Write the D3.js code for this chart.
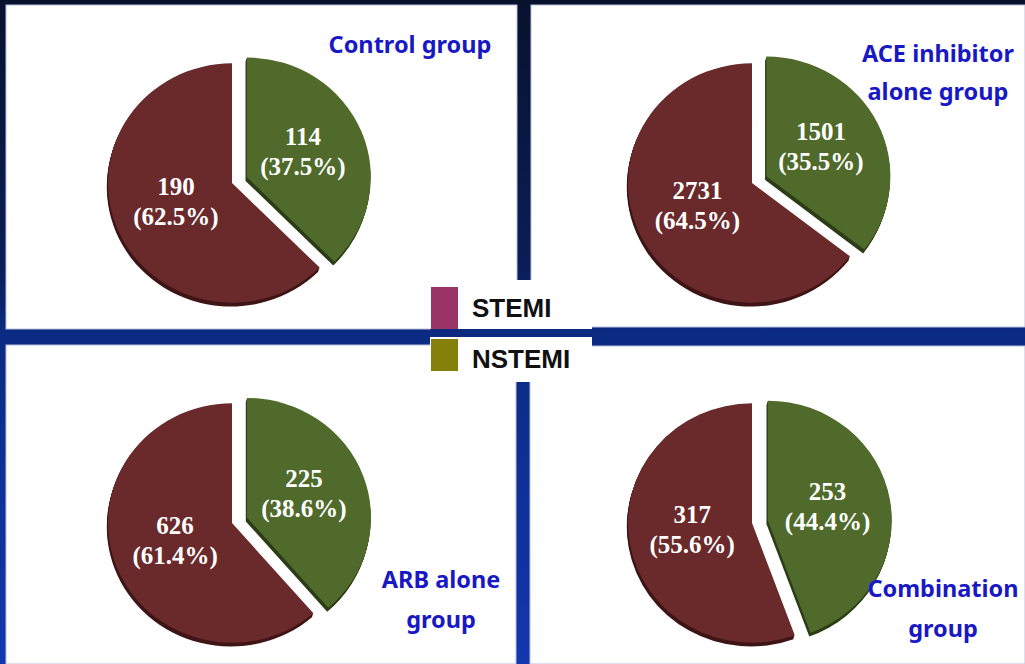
<!DOCTYPE html>
<html>
<head>
<meta charset="utf-8">
<script src="https://cdn.jsdelivr.net/npm/d3@7/dist/d3.min.js"></script>
<style>
  html, body { margin: 0; padding: 0; background: #0a1a4a; }
  svg { display: block; }
</style>
</head>
<body>
<svg id="chart" width="1025" height="664"></svg>
<script>
// Infarction type by treatment group
const groupTitles = [
  ["Control group"],
  ["ACE inhibitor", "alone group"],
  ["ARB alone", "group"],
  ["Combination", "group"]
];
const stemiCounts  = [190, 2731, 626, 317];
const nstemiCounts = [114, 1501, 225, 253];
const stemiPct     = [62.5, 64.5, 61.4, 55.6];
const nstemiPct    = [37.5, 35.5, 38.6, 44.4];
const legendLabels = ["STEMI", "NSTEMI"];

// Panel layout: pie centre and title anchor for each quadrant
const layout = [
  { cx: 232, cy: 183, tx: 410, ty: [53] },
  { cx: 752, cy: 183, tx: 938, ty: [62, 100] },
  { cx: 232, cy: 523, tx: 441, ty: [588, 628] },
  { cx: 752, cy: 523, tx: 943, ty: [597, 637] }
];

const W = 1025, H = 664;
const R = 124, squash = 0.965, explode = 16, depth = 4;

const svg = d3.select("#chart");
const defs = svg.append("defs");

const bg = defs.append("linearGradient")
  .attr("id", "frame").attr("x1", 0).attr("y1", 0).attr("x2", 0).attr("y2", 1);
bg.append("stop").attr("offset", "0%").attr("stop-color", "#08122e");
bg.append("stop").attr("offset", "40%").attr("stop-color", "#0a1d56");
bg.append("stop").attr("offset", "50%").attr("stop-color", "#0b2a82");
bg.append("stop").attr("offset", "100%").attr("stop-color", "#1337ae");

// navy frame behind the four white panels
svg.append("rect").attr("width", W).attr("height", H).attr("fill", "url(#frame)");

const panels = [
  { x: 6,   y: 5,   w: 511, h: 324 },
  { x: 531, y: 5,   w: 494, h: 322 },
  { x: 6,   y: 345, w: 510, h: 319 },
  { x: 530, y: 346, w: 495, h: 318 }
];
svg.append("g").selectAll("rect").data(panels).join("rect")
  .attr("x", d => d.x).attr("y", d => d.y)
  .attr("width", d => d.w).attr("height", d => d.h)
  .attr("fill", "#ffffff")
  .attr("stroke", "#b8c0dc").attr("stroke-width", 1);

// legend block sits over the crossing of the dividers
const leg = svg.append("g");
leg.append("rect").attr("x", 430).attr("y", 280).attr("width", 162).attr("height", 102).attr("fill", "#ffffff");
leg.append("rect").attr("x", 430).attr("y", 329).attr("width", 162).attr("height", 8).attr("fill", "#0b2a80");

const legendColor = d3.scaleOrdinal().domain(legendLabels).range(["#9b3466", "#858009"]);
const legendBoxes = [
  { y: 287, h: 42, base: 317 },
  { y: 339, h: 32, base: 368 }
];
leg.selectAll("rect.key").data(legendLabels).join("rect")
  .attr("class", "key")
  .attr("x", 431).attr("width", 27)
  .attr("y", (d, i) => legendBoxes[i].y)
  .attr("height", (d, i) => legendBoxes[i].h)
  .attr("fill", d => legendColor(d));
leg.selectAll("text").data(legendLabels).join("text")
  .attr("x", 472)
  .attr("y", (d, i) => legendBoxes[i].base)
  .attr("font-family", "'Liberation Sans', Arial, sans-serif")
  .attr("font-weight", "bold")
  .attr("font-size", 26)
  .attr("fill", "#111111")
  .text(d => d);

// slice colours (top face and side)
const faceColor = { NSTEMI: "#4f6a2b", STEMI: "#6a2a2b" };
const sideColor = { NSTEMI: "#2c3e16", STEMI: "#3f1516" };

const pie = d3.pie().sort(null).value(d => d.pct);
const arc = d3.arc().innerRadius(0).outerRadius(R);
const labelArc = d3.arc().innerRadius(R / 2 * 0.98).outerRadius(R / 2 * 0.98);

layout.forEach((L, gi) => {
  const slices = pie([
    { key: "NSTEMI", pct: nstemiPct[gi], count: nstemiCounts[gi] },
    { key: "STEMI",  pct: stemiPct[gi],  count: stemiCounts[gi] }
  ]);

  const g = svg.append("g")
    .attr("transform", `translate(${L.cx},${L.cy}) scale(1,${squash})`);

  const offset = d => {
    if (d.data.key !== "NSTEMI") return [0, 0];
    const a = (d.startAngle + d.endAngle) / 2;
    return [Math.sin(a) * explode, -Math.cos(a) * explode];
  };

  // extruded side of the disc
  for (let k = depth; k >= 1; k--) {
    g.append("g").selectAll("path").data(slices).join("path")
      .attr("transform", d => { const o = offset(d); return `translate(${o[0] - k * 0.3},${o[1] + k})`; })
      .attr("d", arc)
      .attr("fill", d => sideColor[d.data.key]);
  }

  // top face
  g.append("g").selectAll("path").data(slices).join("path")
    .attr("transform", d => { const o = offset(d); return `translate(${o[0]},${o[1]})`; })
    .attr("d", arc)
    .attr("fill", d => faceColor[d.data.key]);

  // value labels
  const lab = svg.append("g").attr("transform", `translate(${L.cx},${L.cy})`);
  slices.forEach(d => {
    const o = offset(d);
    const c = labelArc.centroid(d);
    const x = c[0] + o[0], y = (c[1] + o[1]) * squash;
    const t = lab.append("text")
      .attr("text-anchor", "middle")
      .attr("font-family", "'Liberation Serif', 'Times New Roman', serif")
      .attr("font-weight", "bold")
      .attr("font-size", 25)
      .attr("fill", "#ffffff");
    t.append("tspan").attr("x", x).attr("y", y - 10).text(d.data.count);
    t.append("tspan").attr("x", x).attr("y", y + 20).text(`(${d.data.pct.toFixed(1)}%)`);
  });

  // group title
  svg.append("text")
    .attr("text-anchor", "middle")
    .attr("font-family", "'Noto Sans', 'Open Sans', sans-serif")
    .attr("font-weight", "bold")
    .attr("font-size", 23.5)
    .attr("fill", "#1818c4")
    .selectAll("tspan").data(groupTitles[gi]).join("tspan")
    .attr("x", L.tx)
    .attr("y", (d, i) => L.ty[i])
    .text(d => d);
});
</script>
</body>
</html>
